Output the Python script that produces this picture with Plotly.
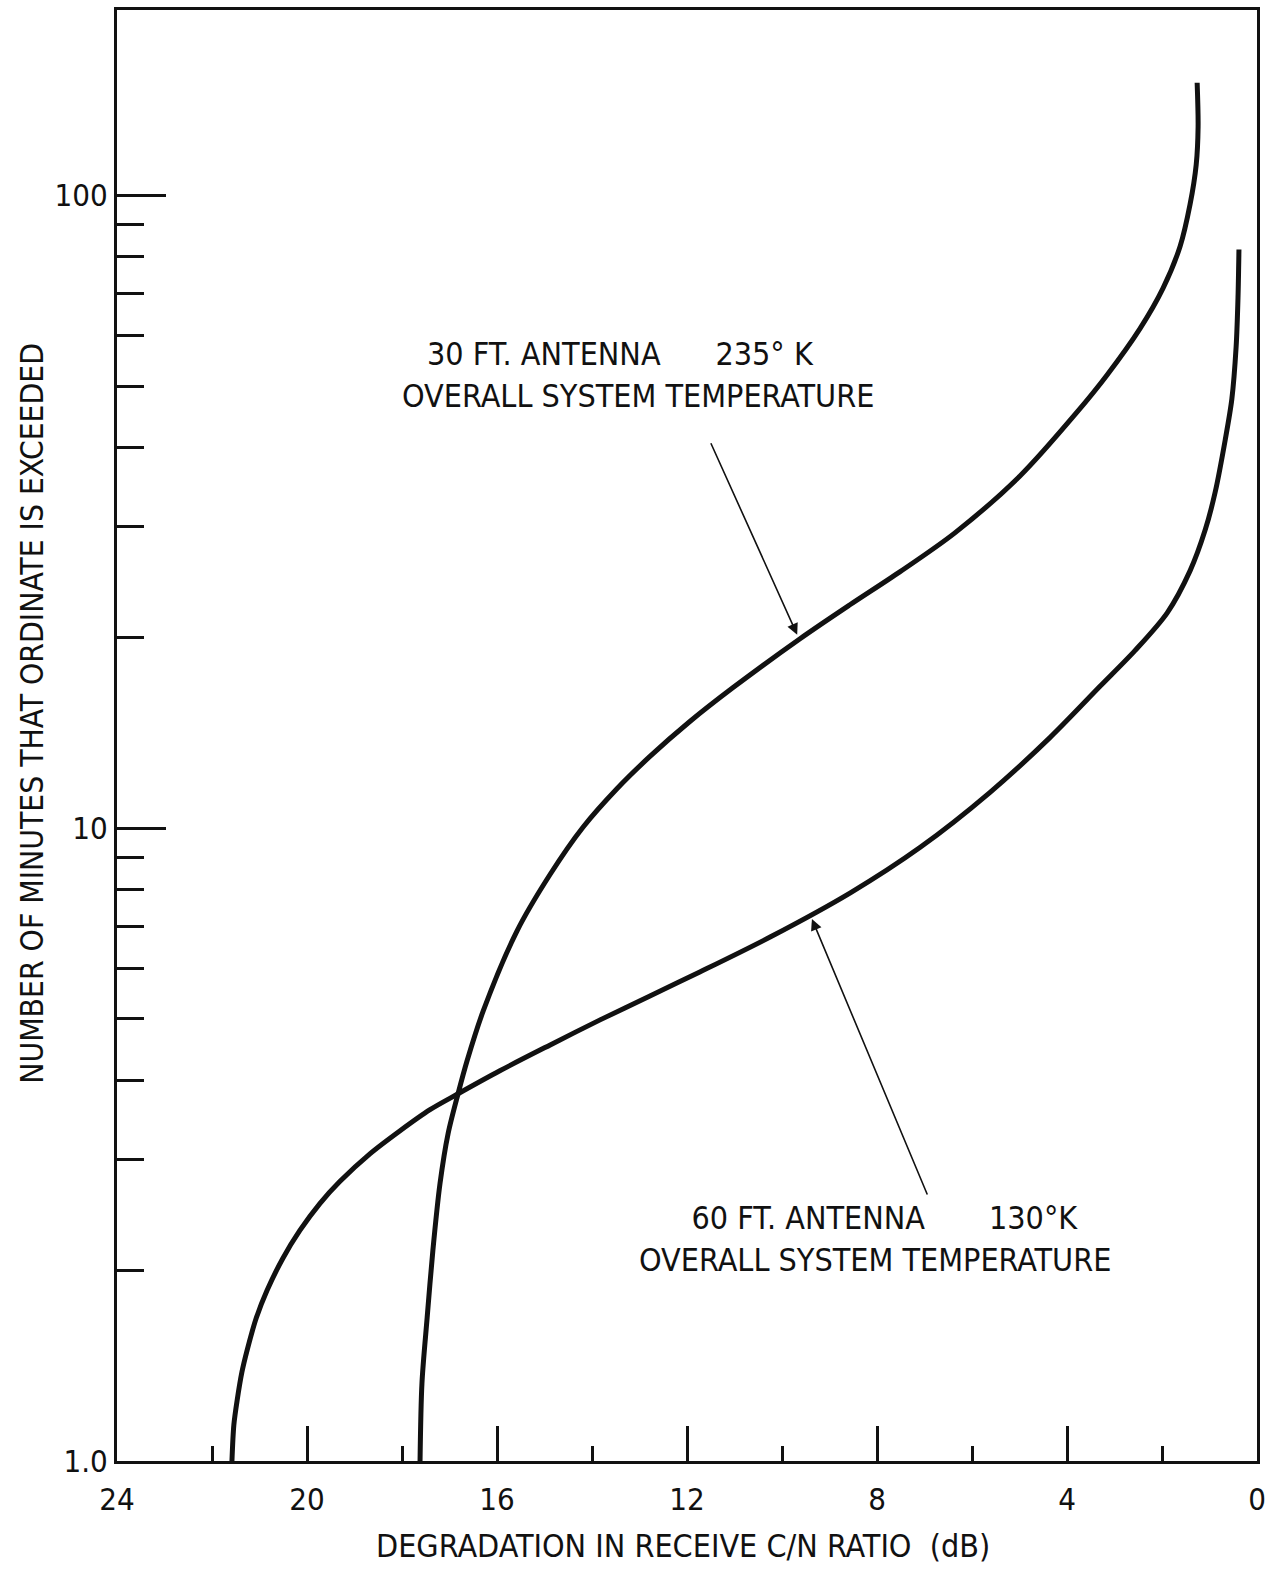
import math
import plotly.graph_objects as go

# Degradation in receive C/N ratio (dB) vs. minutes the ordinate is exceeded
db_30ft = [17.62, 17.58, 17.47, 17.35, 17.20, 17.03, 16.82, 16.63, 16.29, 15.58,
           14.88, 14.19, 13.47, 12.78, 11.94, 11.03, 9.62, 8.57, 7.52, 6.36,
           4.99, 3.79, 3.16, 2.46, 1.98, 1.62, 1.41, 1.28, 1.24, 1.26]
min_30ft = [1.0, 1.327, 1.687, 2.151, 2.745, 3.291, 3.806, 4.291, 5.145, 6.88,
            8.46, 10.04, 11.56, 12.99, 14.75, 16.69, 19.94, 22.56, 25.43, 29.31,
            36.05, 45.47, 52.02, 61.69, 71.35, 83.1, 96.8, 111.9, 128.5, 150.8]

db_60ft = [21.58, 21.54, 21.47, 21.37, 21.26, 21.07, 20.84, 20.51, 20.15, 19.73,
           19.31, 18.67, 18.04, 17.41, 16.82, 15.94, 14.88, 13.83, 12.78, 11.73,
           10.25, 8.57, 7.09, 5.62, 4.36, 3.31, 2.57, 1.89, 1.41, 1.09,
           0.88, 0.67, 0.53, 0.44, 0.40, 0.38]
min_60ft = [1.0, 1.140, 1.248, 1.382, 1.497, 1.681, 1.861, 2.090, 2.314, 2.552,
            2.765, 3.061, 3.327, 3.592, 3.806, 4.138, 4.546, 4.98, 5.433, 5.928,
            6.732, 7.90, 9.333, 11.40, 13.91, 16.75, 19.09, 21.91, 25.52, 29.63,
            34.0, 41.08, 47.68, 57.6, 69.0, 82.2]

x_major = [24, 20, 16, 12, 8, 4, 0]
x_major_text = ["24", "20", "16", "12", "8", "4", "0"]
x_minor = [22, 18, 14, 10, 6, 2]
y_major = [1, 10, 100]
y_major_text = ["1.0", "10", "100"]
y_minor = [2, 3, 4, 5, 6, 7, 8, 9, 20, 30, 40, 50, 60, 70, 80, 90]

label_30ft = ["30 FT. ANTENNA", "235° K", "OVERALL SYSTEM TEMPERATURE"]
label_60ft = ["60 FT. ANTENNA", "130°K", "OVERALL SYSTEM TEMPERATURE"]
x_title = "DEGRADATION IN RECEIVE C/N RATIO  (dB)"
y_title = "NUMBER OF MINUTES THAT ORDINATE IS EXCEEDED"

FONT = "Liberation Sans Narrow, Arial Narrow, DejaVu Sans Condensed, sans-serif"
INK = "#111111"
NB = "\u00a0"

fig = go.Figure()
for xs, ys in [(db_30ft, min_30ft), (db_60ft, min_60ft)]:
    fig.add_trace(go.Scatter(
        x=xs, y=ys, mode="lines",
        line=dict(color=INK, width=5, shape="spline", smoothing=0.85),
        hoverinfo="skip", showlegend=False,
    ))

fig.update_layout(
    width=1279, height=1571,
    margin=dict(l=117, r=22, t=7, b=110),
    paper_bgcolor="white", plot_bgcolor="white",
    font=dict(family=FONT, color=INK, size=30),
    showlegend=False,
)

fig.update_xaxes(
    range=[24, 0], showgrid=False, zeroline=False,
    showline=True, linecolor=INK, linewidth=3, mirror=True,
    tickmode="array", tickvals=x_major, ticktext=x_major_text,
    ticks="inside", ticklen=35, tickwidth=2.5, tickcolor=INK,
    ticklabelstandoff=9,
    tickfont=dict(family=FONT, size=31, color=INK),
    minor=dict(tickmode="array", tickvals=x_minor, ticks="inside",
               ticklen=15, tickwidth=2.5, tickcolor=INK, showgrid=False),
)

fig.update_yaxes(
    type="log", range=[0, 2.2934], showgrid=False, zeroline=False,
    showline=True, linecolor=INK, linewidth=3, mirror=True,
    tickmode="array", tickvals=y_major, ticktext=y_major_text,
    ticks="inside", ticklen=49, tickwidth=2.5, tickcolor=INK,
    ticklabelstandoff=0,
    tickfont=dict(family=FONT, size=31, color=INK),
    minor=dict(tickmode="array", tickvals=y_minor, ticks="inside",
               ticklen=27, tickwidth=2.5, tickcolor=INK, showgrid=False),
)

def text_note(txt, xp, yp, size=32, angle=0):
    fig.add_annotation(
        text=txt, xref="paper", yref="paper", x=xp, y=yp,
        xanchor="center", yanchor="middle", align="center",
        showarrow=False, textangle=angle,
        font=dict(family=FONT, size=size, color=INK),
    )

# curve labels (two lines each)
text_note(label_30ft[0] + NB * 6 + label_30ft[1] + NB * 4 + "<br>" + label_30ft[2],
          0.457, 0.7486)
text_note(NB * 2 + label_60ft[0] + NB * 7 + label_60ft[1] + "<br>" + label_60ft[2],
          0.665, 0.1527)

# axis titles
text_note(x_title, 0.4965, -0.0585)
text_note(y_title, -0.0745, 0.515, size=31.5, angle=-90)

# leader arrows from labels to curves
arrows = [
    dict(x=9.68, y=20.23, ax=-87, ay=-193),
    dict(x=9.37, y=7.19, ax=116, ay=277),
]
for a in arrows:
    fig.add_annotation(
        x=a["x"], y=math.log10(a["y"]), xref="x", yref="y",
        ax=a["ax"], ay=a["ay"], axref="pixel", ayref="pixel",
        text="", showarrow=True, arrowhead=2, arrowsize=1.4,
        arrowwidth=1.6, arrowcolor=INK, standoff=0,
    )

fig.write_html("out.html")
